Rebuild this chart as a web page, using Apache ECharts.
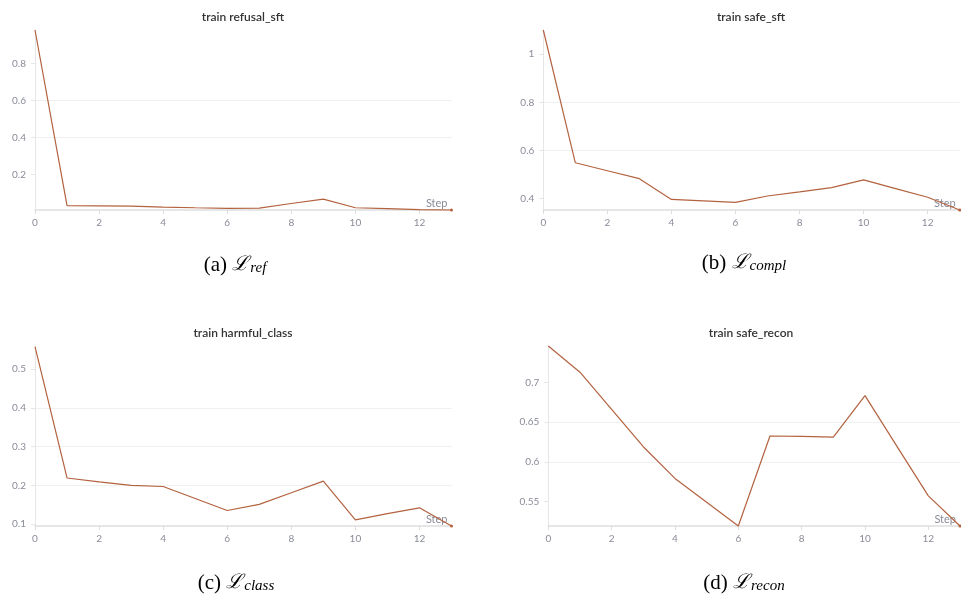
<!DOCTYPE html>
<html>
<head>
<meta charset="utf-8">
<title>train losses</title>
<script src="https://cdn.jsdelivr.net/npm/echarts@6/dist/echarts.min.js"></script>
<style>
    html, body { margin: 0; padding: 0; background: #fff; }
    #chart { width: 961px; height: 597px; }
</style>
</head>
<body>
<div id="chart"></div>
<script>
// steps on the x axis
var steps = [0, 1, 2, 3, 4, 5, 6, 7, 8, 9, 10, 11, 12, 13];
var xTicks = [0, 2, 4, 6, 8, 10, 12];

// values
var refusalSft = [0.98, 0.033, 0.032, 0.031, 0.026, 0.022, 0.019, 0.02, 0.045, 0.069, 0.022, 0.017, 0.012, 0.01];
var safeSft = [1.1, 0.549, 0.516, 0.483, 0.397, 0.391, 0.385, 0.411, 0.428, 0.446, 0.478, 0.442, 0.406, 0.353];
var harmfulClass = [0.558, 0.219, 0.209, 0.2, 0.197, 0.166, 0.135, 0.151, 0.181, 0.211, 0.111, 0.127, 0.142, 0.095];
var safeRecon = [0.746, 0.713, 0.666, 0.619, 0.579, 0.549, 0.519, 0.6325, 0.632, 0.631, 0.6835, 0.62, 0.557, 0.519];

var yTicksA = [0.2, 0.4, 0.6, 0.8];
var yTicksB = [0.4, 0.6, 0.8, 1];
var yTicksC = [0.1, 0.2, 0.3, 0.4, 0.5];
var yTicksD = [0.55, 0.6, 0.65, 0.7];

var titles = ['train refusal_sft', 'train safe_sft', 'train harmful_class', 'train safe_recon'];
var captions = [
    ['(a) ', 'ref'],
    ['(b) ', 'compl'],
    ['(c) ', 'class'],
    ['(d) ', 'recon']
];

var LINE = '#b3623f';
var LABEL = '#8a8c99';
var FONT = 'Lato, "Open Sans", sans-serif';

var panels = [
    {data: refusalSft, ticks: yTicksA, grid: {left: 35, right: 509.5, top: 30, bottom: 387}, tx: 238, ty: 6, cx: 235, cy: 265},
    {data: safeSft, ticks: yTicksB, grid: {left: 543.3, right: 1.3, top: 30, bottom: 387}, tx: 746, ty: 6, cx: 744, cy: 263},
    {data: harmfulClass, ticks: yTicksC, grid: {left: 35, right: 509.5, top: 346.7, bottom: 71}, tx: 238, ty: 322, cx: 236, cy: 583},
    {data: safeRecon, ticks: yTicksD, grid: {left: 548.3, right: 1, top: 346, bottom: 71}, tx: 746, ty: 322, cx: 744, cy: 583}
];

var chart = echarts.init(document.getElementById('chart'));

var option = {
    animation: false,
    backgroundColor: '#fff',
    title: [],
    grid: [],
    xAxis: [],
    yAxis: [],
    series: [],
    graphic: []
};

panels.forEach(function (p, i) {
    var pts = steps.map(function (s, k) { return [s, p.data[k]]; });
    var lo = Math.min.apply(null, p.data), hi = Math.max.apply(null, p.data);

    option.title.push({
        text: titles[i],
        left: p.tx,
        top: p.ty,
        textAlign: 'center',
        textStyle: {fontFamily: FONT, fontSize: 12, fontWeight: 600, color: '#333'}
    });
    option.grid.push(p.grid);

    option.xAxis.push({
        type: 'value',
        gridIndex: i,
        min: 0,
        max: 13,
        name: 'Step',
        nameLocation: 'end',
        nameGap: -4,
        nameTextStyle: {fontFamily: FONT, fontSize: 11, color: LABEL, align: 'right', verticalAlign: 'bottom', padding: [0, 0, 1, 0]},
        axisLine: {lineStyle: {color: '#dedede', width: 1.5}},
        axisTick: {show: true, customValues: xTicks, length: 4, lineStyle: {color: '#dedede'}},
        axisLabel: {customValues: xTicks, fontFamily: FONT, fontSize: 10, color: LABEL, margin: 8},
        splitLine: {show: false}
    });

    option.yAxis.push({
        type: 'value',
        gridIndex: i,
        min: lo,
        max: hi,
        axisLine: {show: true, lineStyle: {color: '#e6e6e6'}},
        axisTick: {show: true, customValues: p.ticks, length: 4, lineStyle: {color: '#e6e6e6'}},
        axisLabel: {customValues: p.ticks, fontFamily: FONT, fontSize: 10, color: LABEL, margin: 9},
        splitLine: {show: true, showMinLine: false, showMaxLine: false, lineStyle: {color: '#f0f0f0'}}
    });

    option.series.push({
        type: 'line',
        xAxisIndex: i,
        yAxisIndex: i,
        data: pts,
        showSymbol: true,
        symbol: 'circle',
        symbolSize: function (v, params) {
            return params.dataIndex === steps.length - 1 ? 3 : 0;
        },
        itemStyle: {color: LINE},
        lineStyle: {color: LINE, width: 1.2},
        clip: false
    });

    option.graphic.push({
        type: 'text',
        x: p.cx,
        y: p.cy,
        style: {
            text: '{p|' + captions[i][0] + '}{l|ℒ}{s|' + captions[i][1] + '}',
            align: 'center',
            verticalAlign: 'middle',
            rich: {
                p: {fontFamily: '"Liberation Serif", serif', fontSize: 21, color: '#111'},
                l: {fontFamily: '"DejaVu Serif", serif', fontStyle: 'italic', fontSize: 20, color: '#111'},
                s: {fontFamily: '"Liberation Serif", serif', fontStyle: 'italic', fontSize: 15, color: '#111', padding: [7, 0, 0, 1]}
            }
        }
    });
});

chart.setOption(option);
</script>
</body>
</html>
